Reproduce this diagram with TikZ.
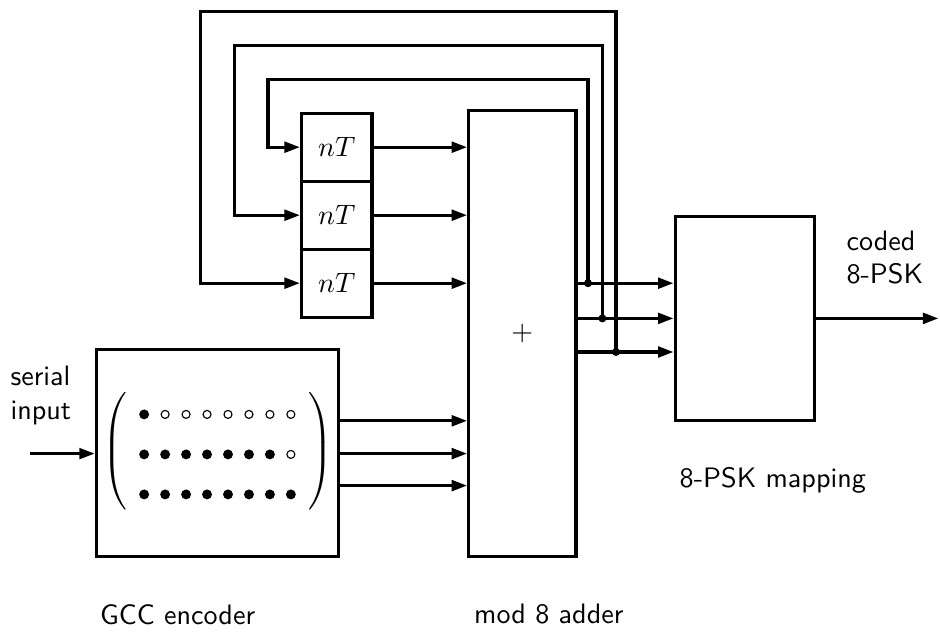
\documentclass[tikz,border=0pt]{standalone}
\usepackage{tikz}
\usetikzlibrary{positioning,calc,arrows.meta}
\usepackage{amsmath}

\begin{document}
\begin{tikzpicture}[
  block/.style={draw, line width=1.2pt, inner sep=0pt, font=\sffamily},
  delay/.style={draw, line width=1.2pt, minimum width=0.88cm,
               minimum height=0.85cm, inner sep=0pt},
  lbl/.style={font=\sffamily, align=left},
  sig/.style={line width=1.1pt, -{Triangle[length=5.5pt,width=3.8pt]}},
  wire/.style={line width=1.1pt},
  % Junction dot where a feedback line leaves an adder output
  tap/.style={fill=black},
  fulldot/.style={fill=black},
  opendot/.style={draw=black, line width=0.4pt, fill=white},
]
\useasboundingbox (0,0) rectangle (11.75,-7.9125);

% Delay chain: three nT cells
\node[delay] (d1) at (4.21, -1.84) {$nT$};
\node[delay] (d2) at (4.21, -2.69) {$nT$};
\node[delay] (d3) at (4.21, -3.54) {$nT$};

% Adder, encoder and mapper blocks
\node[block, minimum width=1.34cm, minimum height=5.58cm] (adder) at (6.53, -4.17) {$+$};
% Encoder holds the brackets of its generator matrix
\node[block, minimum width=3.03cm, minimum height=2.59cm] (gcc) at (2.72, -5.66)
  {$\left(\vrule height 19.5pt depth 19.5pt width 0pt\hspace{2.26cm}\right)$};
\node[block, minimum width=1.74cm, minimum height=2.55cm] (mapper) at (9.31, -3.98) {};

% Generator matrix entries
\foreach \r/\k in {1/1,2/7,3/8}
  \foreach \c in {1,...,8}{
    \ifnum\c>\k\relax
      \draw[opendot] ($(gcc.center)+(-1.18+0.262*\c, 0.98-0.5*\r)$) circle (0.05);
    \else
      \fill[fulldot] ($(gcc.center)+(-1.18+0.262*\c, 0.98-0.5*\r)$) circle (0.062);
    \fi
  }

% Labels
\node[lbl] (serial) at (0.51, -4.94) {serial\\input};
\node[lbl] (coded) at (11.06, -3.22) {coded\\8-PSK};
\node[lbl] (mapcap) at (9.66, -6.0) {8-PSK mapping};
\node[lbl] (gcccap) at (2.22, -7.68) {GCC encoder};
\node[lbl] (addcap) at (6.86, -7.68) {mod 8 adder};

% Signal coordinates
\coordinate (in) at (0.375, -5.67);
\coordinate (out) at (11.73, -3.98);
\coordinate (e1) at (4.235, -5.26);
\coordinate (e2) at (4.235, -5.67);
\coordinate (e3) at (4.235, -6.07);
\coordinate (o1) at (7.35, -3.54);
\coordinate (o2) at (7.53, -3.98);
\coordinate (o3) at (7.70, -4.40);
\coordinate (l1) at (3.35, -0.99);
\coordinate (l2) at (2.93, -0.57);
\coordinate (l3) at (2.51, -0.14);

% Input and encoder outputs
\draw[sig] (in) -- (gcc.west |- in);
\draw[sig] (e1) -- (e1 -| adder.west);
\draw[sig] (e2) -- (e2 -| adder.west);
\draw[sig] (e3) -- (e3 -| adder.west);

% Delay outputs into the adder
\draw[sig] (d1.east) -- (d1.east -| adder.west);
\draw[sig] (d2.east) -- (d2.east -| adder.west);
\draw[sig] (d3.east) -- (d3.east -| adder.west);

% Adder outputs into the mapper
\draw[sig] (adder.east |- o1) -- (mapper.west |- o1);
\draw[sig] (adder.east |- o2) -- (mapper.west |- o2);
\draw[sig] (adder.east |- o3) -- (mapper.west |- o3);

% Feedback loops back into the delays
\draw[sig] (o1) |- (l1) |- (d1.west);
\draw[sig] (o2) |- (l2) |- (d2.west);
\draw[sig] (o3) |- (l3) |- (d3.west);
\fill[tap] (o1) circle (0.05);
\fill[tap] (o2) circle (0.05);
\fill[tap] (o3) circle (0.05);

% Coded output
\draw[sig] (mapper) -- (out);

\end{tikzpicture}
\end{document}
